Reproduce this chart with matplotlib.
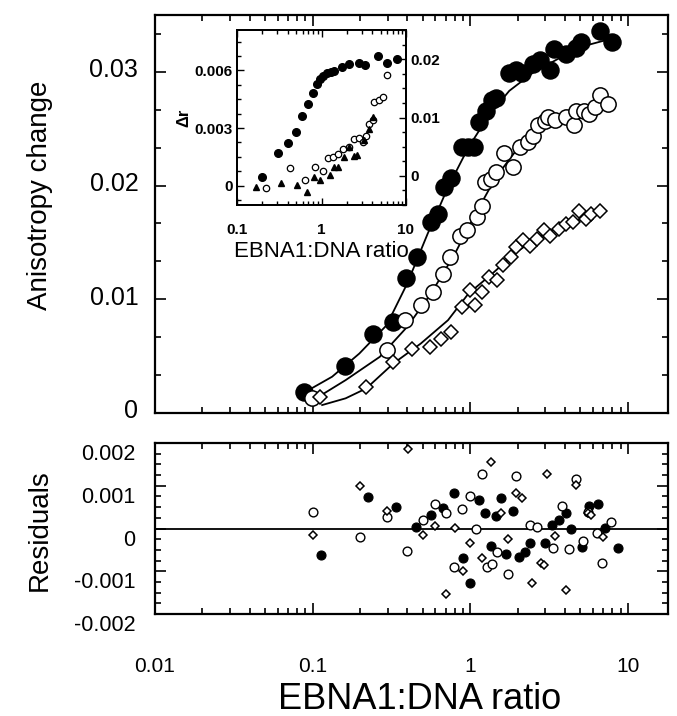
import matplotlib
matplotlib.use("Agg")
import matplotlib.pyplot as plt
from matplotlib.ticker import FixedLocator, LogLocator, MultipleLocator, NullFormatter, FixedFormatter
from matplotlib.transforms import ScaledTranslation

plt.rcParams['font.family'] = ['Liberation Sans', 'DejaVu Sans']

# ---------------- main panel data ----------------
filled_x = [0.088, 0.161, 0.242, 0.323, 0.394, 0.462, 0.564, 0.629, 0.681, 0.761, 0.892, 0.966, 1.05,
            1.13, 1.26, 1.37, 1.45, 1.77, 1.96, 2.14, 2.51, 2.78, 3.19, 3.39, 4.03, 4.68, 5.04, 6.64, 7.91]
filled_y = [0.00187, 0.00412, 0.00699, 0.00801, 0.0119, 0.0137, 0.0168, 0.0175, 0.0199, 0.0207, 0.0234, 0.0234, 0.0234,
            0.0256, 0.0266, 0.0275, 0.0277, 0.0299, 0.0302, 0.0299, 0.0307, 0.0310, 0.0302, 0.0320, 0.0316, 0.0321, 0.0326, 0.0336, 0.0326]

open_x = [0.0986, 0.295, 0.388, 0.486, 0.578, 0.671, 0.741, 0.861, 0.951, 1.10, 1.19, 1.25, 1.35, 1.45, 1.65,
          1.86, 2.06, 2.33, 2.51, 2.71, 2.99, 3.14, 3.47, 4.03, 4.56, 4.68, 5.30, 5.71, 6.16, 6.64, 7.52]
open_y = [0.00129, 0.00553, 0.00816, 0.00947, 0.01064, 0.01225, 0.0137, 0.0156, 0.0161, 0.0172, 0.0182, 0.0203, 0.0206, 0.0212, 0.0229,
          0.0216, 0.0234, 0.0238, 0.0244, 0.0253, 0.0257, 0.0260, 0.0258, 0.0260, 0.0253, 0.0266, 0.0266, 0.0263, 0.0269, 0.0280, 0.0272]

diam_x = [0.112, 0.219, 0.326, 0.428, 0.558, 0.655, 0.753, 0.883, 1.0, 1.08, 1.19, 1.31, 1.49, 1.61, 1.82,
          1.96, 2.17, 2.39, 2.64, 2.92, 3.23, 3.65, 4.03, 4.46, 4.93, 5.43, 5.87, 6.64]
diam_y = [0.00143, 0.00231, 0.0045, 0.00567, 0.00582, 0.00655, 0.00713, 0.00933, 0.01079, 0.00947, 0.01064, 0.0120, 0.0117, 0.0130, 0.0137,
          0.0146, 0.0152, 0.0147, 0.0153, 0.0161, 0.0156, 0.0162, 0.0166, 0.0168, 0.0178, 0.0171, 0.0175, 0.0178]

# fitted curves
fitA_x = [0.088, 0.133, 0.198, 0.295, 0.398, 0.537, 0.723, 0.975, 1.31, 1.77, 2.51, 3.74, 5.30, 8.33]
fitA_y = [0.00178, 0.00319, 0.00523, 0.00772, 0.01137, 0.01576, 0.01985, 0.02336, 0.02614, 0.02833, 0.02994, 0.03126, 0.03228, 0.03301]
fitB_x = [0.101, 0.162, 0.267, 0.398, 0.564, 0.799, 1.08, 1.45, 1.96, 2.78, 4.14, 7.52]
fitB_y = [0.00114, 0.00289, 0.00494, 0.00757, 0.0105, 0.0140, 0.0175, 0.0207, 0.0231, 0.0248, 0.0260, 0.0269]
fitC_x = [0.115, 0.162, 0.219, 0.326, 0.486, 0.723, 0.975, 1.38, 1.96, 2.92, 4.35, 6.64]
fitC_y = [0.0007, 0.00129, 0.00216, 0.00436, 0.00611, 0.00816, 0.0105, 0.01225, 0.01415, 0.01576, 0.01678, 0.01751]

# ---------------- residuals ----------------
rf_x = [0.113, 0.224, 0.339, 0.451, 0.563, 0.671, 0.791, 0.905, 1.0, 1.13, 1.24, 1.35, 1.45, 1.57, 1.69,
        1.86, 2.04, 2.22, 2.39, 2.99, 3.31, 3.65, 4.03, 4.39, 5.12, 5.71, 6.47, 7.14, 8.66]
rf_y = [-0.000617, 0.000727, 0.0005, 0.00003, 0.00032, 0.00049, 0.00083, -0.0007, -0.00128, 0.00066, 0.00036, -0.00041, 0.0003, 0.00071, -0.00059,
        0.00041, -0.00066, -0.00056, -0.00033, -0.00034, 0.00009, 0.0002, 0.00036, -0.00001, -0.00044, 0.00053, 0.00058, 0.00002, -0.00046]
ro_x = [0.1, 0.201, 0.298, 0.398, 0.50, 0.599, 0.706, 0.791, 0.892, 1.0, 1.09, 1.19, 1.28, 1.38, 1.49,
        1.73, 1.96, 2.39, 2.64, 3.36, 3.80, 4.24, 4.68, 5.18, 5.58, 6.41, 6.87, 7.82]
ro_y = [0.00039, -0.00021, 0.00028, -0.00052, 0.00019, 0.00058, 0.00036, -0.00089, 0.00046, 0.00077, -0.00002, 0.00127, -0.00091, -0.00084, -0.00054,
        -0.00107, 0.00123, 0.00009, 0.00003, -0.00046, 0.00052, -0.00048, 0.00116, -0.00029, 0.00038, -0.00011, -0.00081, 0.00016]
rd_x = [0.101, 0.201, 0.298, 0.402, 0.5, 0.599, 0.706, 0.80, 0.905, 1.0, 1.19, 1.35, 1.57, 1.73, 1.96,
        2.14, 2.45, 2.81, 2.92, 3.07, 3.44, 4.03, 4.68, 5.58, 5.87, 7.0]
rd_y = [-0.00015, 0.001, 0.00042, 0.00186, -0.00015, 0.00005, -0.00153, 0.00002, -0.001, -0.00033, -0.00068, 0.00155, 0.00037, -0.00025, 0.00084,
        0.00071, -0.00127, -0.0008, -0.00085, 0.00127, -0.00017, -0.00145, 0.00102, 0.00036, 0.00032, -0.0002]

# ---------------- inset ----------------
if_x = [0.200, 0.306, 0.402, 0.504, 0.593, 0.690, 0.791, 0.873, 0.955, 1.05, 1.15, 1.30, 1.42, 1.75, 2.10, 2.75, 3.30, 4.65, 5.93, 7.77]
if_y = [0.00043, 0.00168, 0.0022, 0.00277, 0.00364, 0.00425, 0.0048, 0.00529, 0.00555, 0.00572, 0.00584, 0.00594, 0.00598, 0.00615, 0.00633, 0.00638, 0.00629, 0.00676, 0.00638, 0.00657]
io_x = [0.219, 0.424, 0.631, 0.828, 1.05, 1.20, 1.37, 1.57, 1.80, 2.10, 2.40, 2.75, 3.06, 3.35, 3.60, 4.05, 4.20, 4.73, 5.31, 6.03]
io_y = [-0.00012, 0.0009, 0.00029, 0.00095, 0.00078, 0.00144, 0.00151, 0.00165, 0.00191, 0.00203, 0.00243, 0.00248, 0.0023, 0.0026, 0.00321, 0.00341, 0.00433, 0.00445, 0.00463, 0.00577]
it_x = [0.167, 0.330, 0.508, 0.667, 0.81, 0.973, 1.25, 1.42, 1.56, 1.83, 2.10, 2.44, 2.63, 3.15, 3.60, 4.05]
it_y = [-0.00005, 0.00012, 0.00005, -0.00035, 0.00043, 0.0003, 0.00057, 0.00095, 0.00099, 0.00147, 0.00203, 0.00156, 0.00161, 0.00237, 0.00295, 0.00355]

main_yticks = [0, 0.01, 0.02, 0.03]
main_yticklabels = ["0", "0.01", "0.02", "0.03"]
res_yticks = [-0.002, -0.001, 0, 0.001, 0.002]
res_yticklabels = ["-0.002", "-0.001", "0", "0.001", "0.002"]
xticks = [0.01, 0.1, 1, 10]
xticklabels = ["0.01", "0.1", "1", "10"]
in_xticks = [0.1, 1, 10]
in_xticklabels = ["0.1", "1", "10"]
in_lticks = [0, 0.003, 0.006]
in_lticklabels = ["0", "0.003", "0.006"]
in_rticks = [0, 0.01, 0.02]
in_rticklabels = ["0", "0.01", "0.02"]

W, H = 677, 716
fig = plt.figure(figsize=(W / 100, H / 100), dpi=100)


def rect(l, t, r, b):
    return [l / W, 1 - b / H, (r - l) / W, (b - t) / H]


def style(ax, lw=1.6):
    for s in ax.spines.values():
        s.set_linewidth(lw)
    ax.tick_params(which='both', direction='in', top=True, right=True, width=1.2, colors='black')
    ax.tick_params(which='major', length=8)
    ax.tick_params(which='minor', length=4)


XMIN, XMAX = 0.01, 18

# ---- main ----
ax = fig.add_axes(rect(155, 15, 668, 413))
ax.set_xscale('log')
ax.set_xlim(XMIN, XMAX)
ax.set_ylim(0, 0.035)
ax.plot(fitA_x, fitA_y, '-', color='black', lw=1.3, zorder=2)
ax.plot(fitB_x, fitB_y, '-', color='black', lw=1.3, zorder=2)
ax.plot(fitC_x, fitC_y, '-', color='black', lw=1.3, zorder=2)
ax.plot(filled_x, filled_y, 'o', ms=12.3, mfc='black', mec='black', mew=1.0, ls='none', zorder=3)
ax.plot(open_x, open_y, 'o', ms=11, mfc='white', mec='black', mew=1.1, ls='none', zorder=3)
ax.plot(diam_x, diam_y, 'D', ms=7.5, mfc='white', mec='black', mew=1.1, ls='none', zorder=3)
style(ax)
ax.xaxis.set_major_locator(FixedLocator(xticks))
ax.xaxis.set_minor_locator(LogLocator(base=10, subs=range(2, 10), numticks=20))
ax.xaxis.set_major_formatter(NullFormatter())
ax.xaxis.set_minor_formatter(NullFormatter())
ax.yaxis.set_major_locator(FixedLocator(main_yticks))
ax.yaxis.set_major_formatter(FixedFormatter(main_yticklabels))
ax.yaxis.set_minor_locator(MultipleLocator(0.01 / 3))
ax.tick_params(axis='y', which='major', labelsize=18, pad=12)
for lab in ax.get_yticklabels():
    lab.set_transform(lab.get_transform() + ScaledTranslation(0, 4 / 100, fig.dpi_scale_trans))

# ---- residuals ----
axr = fig.add_axes(rect(155, 443, 668, 614))
axr.set_xscale('log')
axr.set_xlim(XMIN, XMAX)
axr.set_ylim(-0.002, 0.002)
axr.axhline(0, color='black', lw=1.3, zorder=1)
axr.plot(rf_x, rf_y, 'o', ms=6.5, mfc='black', mec='black', mew=0.8, ls='none', zorder=3)
axr.plot(ro_x, ro_y, 'o', ms=6.3, mfc='white', mec='black', mew=1.0, ls='none', zorder=3)
axr.plot(rd_x, rd_y, 'D', ms=4.3, mfc='white', mec='black', mew=1.1, ls='none', zorder=3)
style(axr)
axr.xaxis.set_major_locator(FixedLocator(xticks))
axr.xaxis.set_major_formatter(FixedFormatter(xticklabels))
axr.xaxis.set_minor_locator(LogLocator(base=10, subs=range(2, 10), numticks=20))
axr.xaxis.set_minor_formatter(NullFormatter())
axr.yaxis.set_major_locator(FixedLocator(res_yticks))
axr.yaxis.set_major_formatter(FixedFormatter(res_yticklabels))
axr.yaxis.set_minor_locator(MultipleLocator(0.00025))
axr.tick_params(axis='y', which='major', labelsize=15.5, pad=14)
axr.tick_params(axis='x', which='major', labelsize=15, pad=31)
for lab in axr.get_yticklabels():
    lab.set_transform(lab.get_transform() + ScaledTranslation(0, -9 / 100, fig.dpi_scale_trans))

fig.text(40 / W, 1 - 195 / H, "Anisotropy change", rotation=90, ha='center', va='center', fontsize=20)
fig.text(40 / W, 1 - 530 / H, "Residuals", rotation=90, ha='center', va='center', fontsize=20)
fig.text(420 / W, 1 - 709 / H, "EBNA1:DNA ratio", ha='center', va='baseline', fontsize=26)

# ---- inset ----
axi = fig.add_axes(rect(237, 30, 406, 205))
axi.set_xscale('log')
axi.set_xlim(0.1, 10)
axi.set_ylim(-0.001, 0.0081)
axi.plot(if_x, if_y, 'o', ms=5.5, mfc='black', mec='black', ls='none')
axi.plot(io_x, io_y, 'o', ms=4.6, mfc='white', mec='black', mew=0.9, ls='none')
axi.plot(it_x, it_y, '^', ms=5, mfc='black', mec='black', ls='none')
for s in axi.spines.values():
    s.set_linewidth(1.4)
axi.tick_params(which='both', direction='in', top=True, right=False, width=1.0)
axi.tick_params(which='major', length=5)
axi.tick_params(which='minor', length=3)
axi.xaxis.set_major_locator(FixedLocator(in_xticks))
axi.xaxis.set_major_formatter(FixedFormatter(in_xticklabels))
axi.xaxis.set_minor_locator(LogLocator(base=10, subs=range(2, 10), numticks=20))
axi.xaxis.set_minor_formatter(NullFormatter())
axi.yaxis.set_major_locator(FixedLocator(in_lticks))
axi.yaxis.set_major_formatter(FixedFormatter(in_lticklabels))
axi.yaxis.set_minor_locator(MultipleLocator(0.00075))
axi.tick_params(axis='y', labelsize=11, pad=3)
axi.tick_params(axis='x', labelsize=11, pad=13)
for lab in axi.get_xticklabels() + axi.get_yticklabels():
    lab.set_fontweight('bold')
axi.set_xlabel("EBNA1:DNA ratio", fontsize=16, labelpad=3)
axi.set_ylabel("Δr", fontsize=12, fontweight='bold', labelpad=2)

axt = axi.twinx()
axt.set_ylim(-0.005, 0.025)
axt.yaxis.set_major_locator(FixedLocator(in_rticks))
axt.yaxis.set_major_formatter(FixedFormatter(in_rticklabels))
axt.yaxis.set_minor_locator(MultipleLocator(0.0025))
axt.tick_params(which='both', direction='in', width=1.0)
axt.tick_params(which='major', length=5, labelsize=11, pad=3)
axt.tick_params(which='minor', length=3)
for lab in axt.get_yticklabels():
    lab.set_fontweight('bold')
for s in axt.spines.values():
    s.set_linewidth(1.4)

fig.savefig("out.png", dpi=100)
